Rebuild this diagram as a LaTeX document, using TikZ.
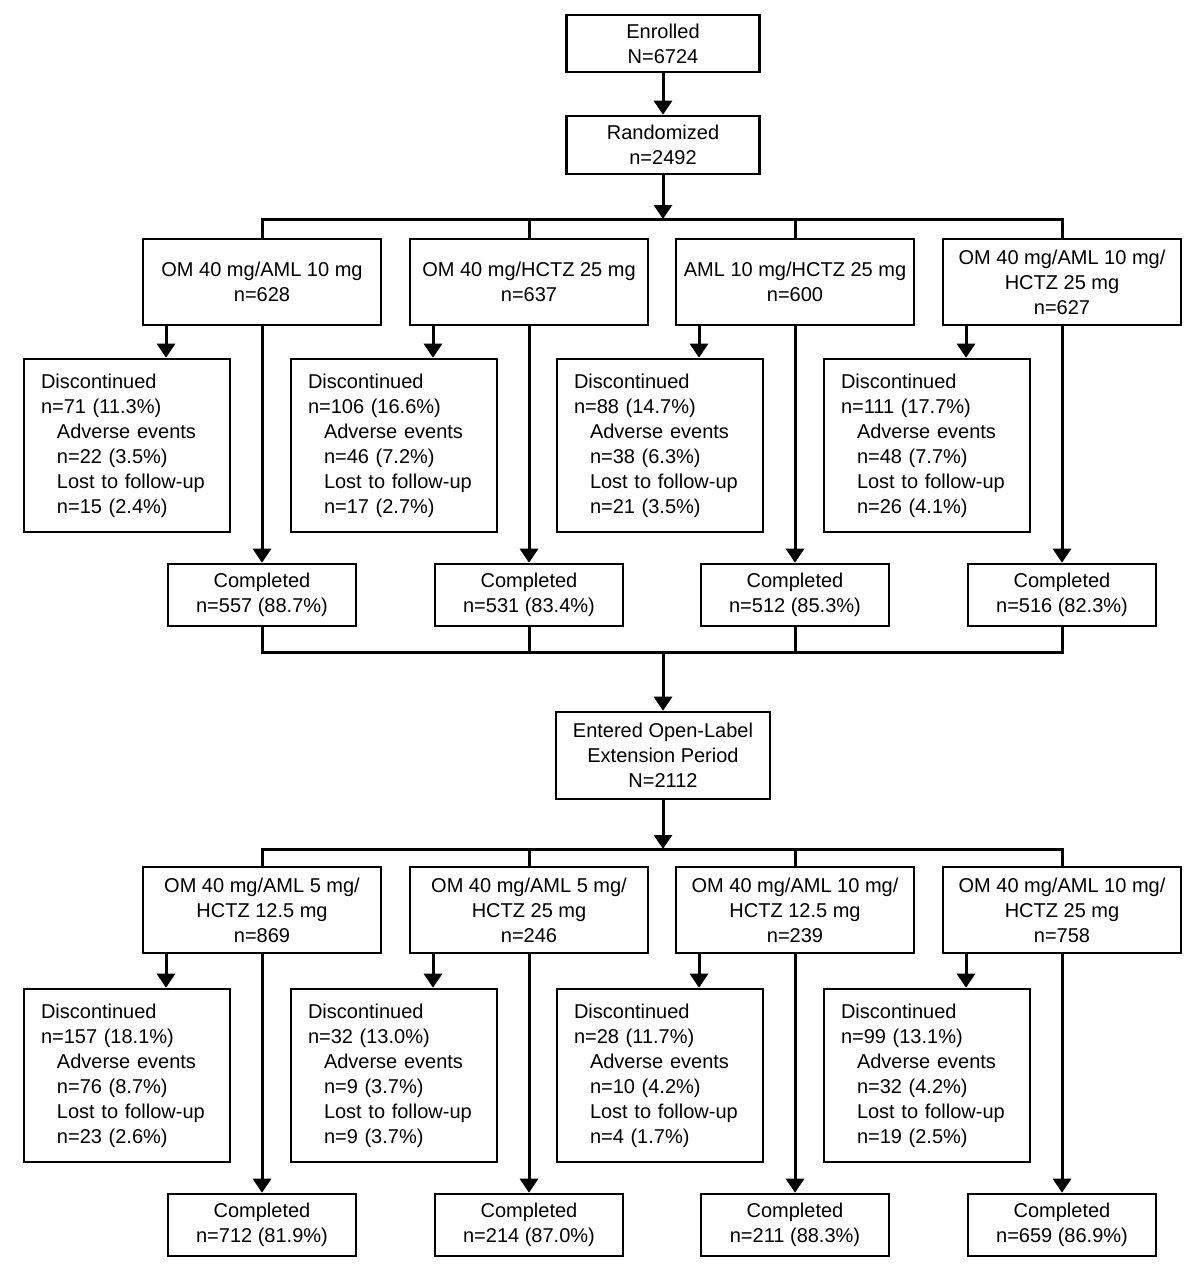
\documentclass[tikz,border=0pt]{standalone}
\usepackage{fontspec}
\setmainfont{Liberation Sans}
\usetikzlibrary{arrows.meta}
\newcommand{\indt}{\hspace*{16pt}}

\begin{document}
\begin{tikzpicture}[x=1pt, y=-1pt, line width=3pt,
  box/.style={draw, line width=2.6pt, align=center, inner sep=0pt,
    font=\fontsize{20}{25}\selectfont},
  grp/.style={box, minimum width=238pt, minimum height=86pt},
  disc/.style={box, align=left, text width=172pt, inner xsep=17pt, minimum height=173pt},
  done/.style={box, minimum width=188pt, minimum height=62pt},
  arr/.style={-{Triangle[width=18pt,length=14pt]}}]
  \fill[white] (0,0) rectangle (1200,1280);
  \useasboundingbox (0,0) rectangle (1200,1280);
  % 入组、随机
  \node[box, minimum width=193pt, minimum height=57pt] (enr) at (663,43.5) {Enrolled\\N=6724};
  \node[box, minimum width=193pt, minimum height=58pt] (rnd) at (663,145) {Randomized\\n=2492};
  \coordinate (top) at (663,219);
  \draw[arr] (enr) -- (rnd);
  \draw[arr] (rnd) -- (top);
  % 双盲期四组
  \node[grp] (g1) at (262,282) {OM 40 mg/AML 10 mg\\n=628};
  \node[grp] (g2) at (529,282) {OM 40 mg/HCTZ 25 mg\\n=637};
  \node[grp] (g3) at (795,282) {AML 10 mg/HCTZ 25 mg\\n=600};
  \node[grp] (g4) at (1062,282) {OM 40 mg/AML 10 mg/\\HCTZ 25 mg\\n=627};
  \node[disc] (d1) at (127,445.5) {Discontinued\\n=71 (11.3\%)\\\indt Adverse events\\\indt n=22 (3.5\%)\\\indt Lost to follow-up\\\indt n=15 (2.4\%)};
  \node[disc] (d2) at (394,445.5) {Discontinued\\n=106 (16.6\%)\\\indt Adverse events\\\indt n=46 (7.2\%)\\\indt Lost to follow-up\\\indt n=17 (2.7\%)};
  \node[disc] (d3) at (660,445.5) {Discontinued\\n=88 (14.7\%)\\\indt Adverse events\\\indt n=38 (6.3\%)\\\indt Lost to follow-up\\\indt n=21 (3.5\%)};
  \node[disc] (d4) at (927,445.5) {Discontinued\\n=111 (17.7\%)\\\indt Adverse events\\\indt n=48 (7.7\%)\\\indt Lost to follow-up\\\indt n=26 (4.1\%)};
  \node[done] (c1) at (262,595) {Completed\\n=557 (88.7\%)};
  \node[done] (c2) at (529,595) {Completed\\n=531 (83.4\%)};
  \node[done] (c3) at (795,595) {Completed\\n=512 (85.3\%)};
  \node[done] (c4) at (1062,595) {Completed\\n=516 (82.3\%)};
  \draw (g1.north) |- (top) -| (g4.north);
  \draw (g2.north) -- (g2.north |- top);
  \draw (g3.north) -- (g3.north |- top);
  % 开放期
  \coordinate (mid) at (663,652);
  \node[box, minimum width=214pt, minimum height=87pt] (ent) at (663,755.5) {Entered Open-Label\\Extension Period\\N=2112};
  \coordinate (low) at (663,849);
  \draw (c1.south) |- (mid) -| (c4.south);
  \draw (c2.south) -- (c2.south |- mid);
  \draw (c3.south) -- (c3.south |- mid);
  \draw[arr] (mid) -- (ent);
  \draw[arr] (ent) -- (low);
  \node[grp] (g5) at (262,910) {OM 40 mg/AML 5 mg/\\HCTZ 12.5 mg\\n=869};
  \node[grp] (g6) at (529,910) {OM 40 mg/AML 5 mg/\\HCTZ 25 mg\\n=246};
  \node[grp] (g7) at (795,910) {OM 40 mg/AML 10 mg/\\HCTZ 12.5 mg\\n=239};
  \node[grp] (g8) at (1062,910) {OM 40 mg/AML 10 mg/\\HCTZ 25 mg\\n=758};
  \node[disc] (d5) at (127,1075.5) {Discontinued\\n=157 (18.1\%)\\\indt Adverse events\\\indt n=76 (8.7\%)\\\indt Lost to follow-up\\\indt n=23 (2.6\%)};
  \node[disc] (d6) at (394,1075.5) {Discontinued\\n=32 (13.0\%)\\\indt Adverse events\\\indt n=9 (3.7\%)\\\indt Lost to follow-up\\\indt n=9 (3.7\%)};
  \node[disc] (d7) at (660,1075.5) {Discontinued\\n=28 (11.7\%)\\\indt Adverse events\\\indt n=10 (4.2\%)\\\indt Lost to follow-up\\\indt n=4 (1.7\%)};
  \node[disc] (d8) at (927,1075.5) {Discontinued\\n=99 (13.1\%)\\\indt Adverse events\\\indt n=32 (4.2\%)\\\indt Lost to follow-up\\\indt n=19 (2.5\%)};
  \node[done] (c5) at (262,1225) {Completed\\n=712 (81.9\%)};
  \node[done] (c6) at (529,1225) {Completed\\n=214 (87.0\%)};
  \node[done] (c7) at (795,1225) {Completed\\n=211 (88.3\%)};
  \node[done] (c8) at (1062,1225) {Completed\\n=659 (86.9\%)};
  \draw (g5.north) |- (low) -| (g8.north);
  \draw (g6.north) -- (g6.north |- low);
  \draw (g7.north) -- (g7.north |- low);
  % 每组：退出 / 完成
  \foreach \i in {1,...,8} {
    \draw[arr] ([xshift=-96pt]g\i.south) -- ([xshift=-96pt]g\i.south |- d\i.north);
    \draw[arr] (g\i) -- (c\i);
  }
\end{tikzpicture}
\end{document}
